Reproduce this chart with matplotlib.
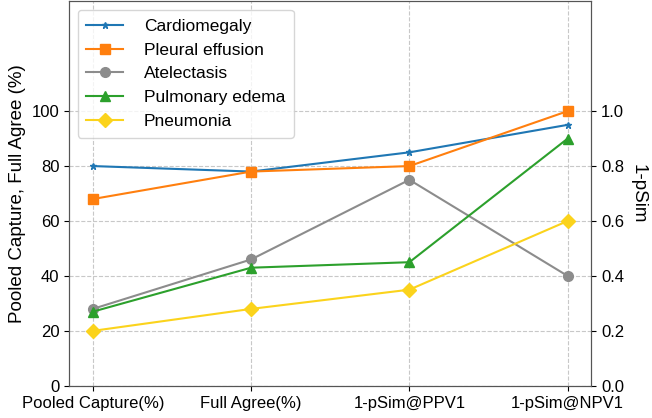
import matplotlib
matplotlib.use('Agg')
import matplotlib.pyplot as plt
import numpy as np

plt.rcParams['font.family'] = ['Liberation Sans', 'DejaVu Sans']

metrics = ['Pooled Capture(%)', 'Full Agree(%)', '1-pSim@PPV1', '1-pSim@NPV1']
cardiomegaly = [80, 78, 85, 95]
pleural_effusion = [68, 78, 80, 100]
atelectasis = [28, 46, 75, 40]
pulmonary_edema = [27, 43, 45, 90]
pneumonia = [20, 28, 35, 60]

series = [
    ('Cardiomegaly', cardiomegaly, '#1f77b4', '*', 5),
    ('Pleural effusion', pleural_effusion, '#ff7f0e', 's', 7),
    ('Atelectasis', atelectasis, '#8c8c8c', 'o', 7),
    ('Pulmonary edema', pulmonary_edema, '#2ca02c', '^', 7),
    ('Pneumonia', pneumonia, '#fbd31c', 'D', 7),
]

fig, ax = plt.subplots(figsize=(6.52, 4.18), dpi=100)
x = np.arange(len(metrics))
for name, vals, color, marker, ms in series:
    ax.plot(x, vals, color=color, marker=marker, markersize=ms, label=name, linewidth=1.5)

ax.set_xticks(x)
ax.set_xticklabels(metrics, fontsize=12)
ax.set_ylim(0, 140)
ax.set_yticks([0, 20, 40, 60, 80, 100])
ax.tick_params(axis='y', labelsize=12)
ax.set_ylabel('Pooled Capture, Full Agree (%)', fontsize=13.5)
ax.grid(True, linestyle='--', color='#c8c8c8')

ax2 = ax.twinx()
ax2.set_ylim(0, 1.4)
ax2.set_yticks([0.0, 0.2, 0.4, 0.6, 0.8, 1.0])
ax2.tick_params(axis='y', labelsize=12)
ax2.set_ylabel('1-pSim', fontsize=13.5, rotation=270, labelpad=16)

for a in (ax, ax2):
    for s in a.spines.values():
        s.set_color('#555555')

ax.legend(loc='upper left', fontsize=12.5, handlelength=2.1, handletextpad=1.2,
          labelspacing=0.5, borderaxespad=0.5, borderpad=0.5)
fig.subplots_adjust(left=0.106, right=0.907, top=0.997, bottom=0.077)
fig.savefig('out.png')
